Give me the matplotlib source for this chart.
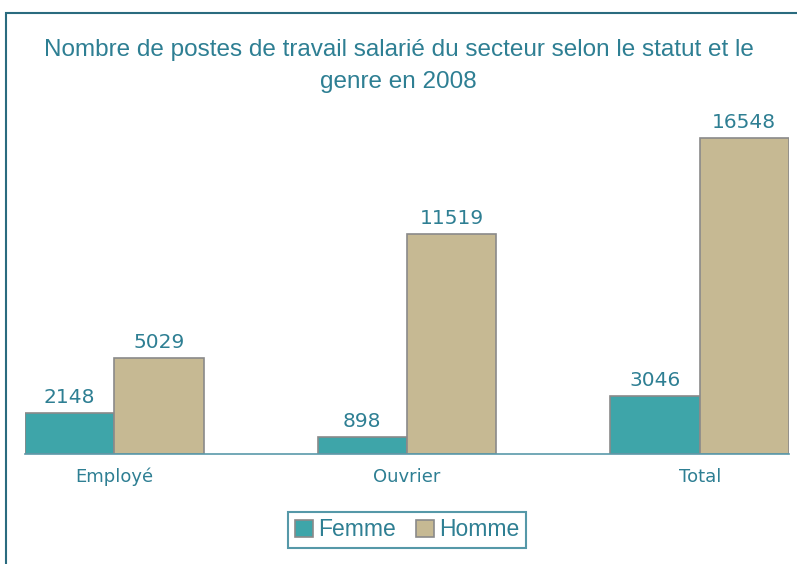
import matplotlib.pyplot as plt
import numpy as np
from matplotlib.patches import Rectangle

# données
categories = ['Employé', 'Ouvrier', 'Total']
femme = [2148, 898, 3046]
homme = [5029, 11519, 16548]
series_labels = ['Femme', 'Homme']

W, H = 797, 564
fig = plt.figure(figsize=(W / 100, H / 100), dpi=100)

teal_txt = '#2e7f93'
c_femme = '#3ea5a9'
c_homme = '#c6b993'
edge = '#8a8a8a'

# cadre autour du graphique
fig.patches.append(Rectangle((6 / W, -0.05), 1.2, (H - 13) / H + 0.05, transform=fig.transFigure,
                             fill=False, edgecolor='#2a6b7f', linewidth=1.5))

# axes placés en pixels
y_base = 454
ymax = 18000
px_per_unit = (454 - 138) / 16548
ax_h = ymax * px_per_unit
ax = fig.add_axes([25 / W, (H - y_base) / H, (789 - 25) / W, ax_h / H])

x = np.arange(len(categories))
w = 0.305
b1 = ax.bar(x - w / 2, femme, w, color=c_femme, edgecolor=edge, linewidth=1.2, label=series_labels[0])
b2 = ax.bar(x + w / 2, homme, w, color=c_homme, edgecolor=edge, linewidth=1.2, label=series_labels[1])

# étiquettes de valeur au-dessus des barres
for bars, vals in ((b1, femme), (b2, homme)):
    for r, v in zip(bars, vals):
        ax.annotate(str(v), (r.get_x() + r.get_width() / 2, v), xytext=(0, 4),
                    textcoords='offset points', ha='center', va='bottom',
                    fontsize=14.5, color=teal_txt)

ax.set_xlim(-w, len(categories) - 1 + w)
ax.set_ylim(0, ymax)
ax.set_yticks([])
ax.set_xticks(x)
ax.set_xticklabels(categories, fontsize=13, color=teal_txt)
ax.tick_params(axis='x', length=0, pad=10)
for s in ('top', 'right', 'left'):
    ax.spines[s].set_visible(False)
ax.spines['bottom'].set_color('#5a9aaa')
ax.spines['bottom'].set_linewidth(1.2)

title_font = dict(ha='center', va='center', fontsize=17.5, color=teal_txt, family='Liberation Sans')
fig.text(0.5, (H - 50) / H, "Nombre de postes de travail salarié du secteur selon le statut et le", **title_font)
fig.text(0.5, (H - 82) / H, "genre en 2008", **title_font)

leg = fig.legend(loc='center', bbox_to_anchor=(407 / W, (H - 530) / H), ncol=2,
                 prop={'family': 'Liberation Sans', 'size': 16.5},
                 frameon=True, fancybox=False, handlelength=0.8, handleheight=0.8,
                 handletextpad=0.2, columnspacing=0.9, borderpad=0.3, labelcolor=teal_txt)
leg.get_frame().set_edgecolor('#2a7f93')
leg.get_frame().set_linewidth(1.5)

fig.savefig('out.png', dpi=100)
